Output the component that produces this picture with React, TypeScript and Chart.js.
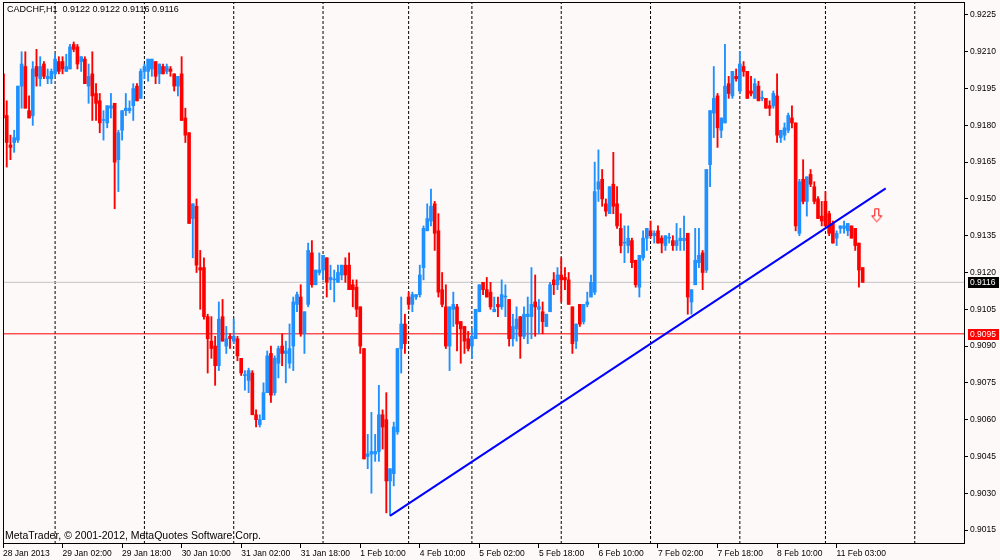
import React, { useEffect, useRef } from "react";
import { Chart, registerables } from "chart.js";

Chart.register(...registerables);

const FONT = '"Liberation Sans", Arial, sans-serif';
const BG = "#FDF9F8";
const BULL = "#1E90FF";
const BEAR = "#FF0000";

const titleText = "CADCHF,H1  0.9122 0.9122 0.9116 0.9116";
const copyrightText = "MetaTrader, \u00A9 2001-2012, MetaQuotes Software Corp.";

// H1 bars, index 0 = 28 Jan 2013 10:00 (one line per trading day)
const opens = [
  0.9201, 0.9184, 0.9172, 0.9173, 0.9174, 0.9196, 0.9204, 0.9186, 0.9184, 0.9204, 0.9199, 0.9205, 0.9199, 0.9199,
  0.9201, 0.9206, 0.9206, 0.9202, 0.9203, 0.9213, 0.9212, 0.9206, 0.9207, 0.9196, 0.9201, 0.9193, 0.919, 0.9182, 0.9181, 0.9187, 0.9189, 0.9166, 0.9178, 0.9186, 0.9186, 0.9188, 0.9196, 0.9191,
  0.9202, 0.9202, 0.9203, 0.9206, 0.9201, 0.9204, 0.9202, 0.9203, 0.9201, 0.9196, 0.9201, 0.9183, 0.9177, 0.9142, 0.9147, 0.9122, 0.9122, 0.9102, 0.9092, 0.909, 0.9082, 0.9102, 0.909, 0.9094,
  0.9092, 0.9093, 0.9085, 0.9078, 0.9076, 0.9079, 0.9062, 0.9058, 0.906, 0.9071, 0.9087, 0.9071, 0.9083, 0.909, 0.9087, 0.9083, 0.909, 0.9107, 0.911, 0.9095, 0.9107, 0.9128, 0.9115, 0.912,
  0.9121, 0.9126, 0.9117, 0.9117, 0.9116, 0.9119, 0.9123, 0.9123, 0.9115, 0.9114, 0.9106, 0.9089, 0.9045, 0.9046, 0.9046, 0.9047, 0.9062, 0.906, 0.9035, 0.9038, 0.9055, 0.9089, 0.9099,
  0.911, 0.9107, 0.911, 0.9111, 0.9122, 0.9137, 0.9141, 0.9148, 0.9137, 0.9113, 0.9106, 0.909, 0.9105, 0.9106, 0.91, 0.9098, 0.9093,
  0.909, 0.9093, 0.9104, 0.9116, 0.9113, 0.9112, 0.9104, 0.9107, 0.9106, 0.911, 0.9109, 0.9093, 0.9097, 0.9102, 0.9094, 0.9102, 0.9102, 0.9108, 0.9105, 0.9104, 0.9098, 0.9104, 0.9117, 0.9115,
  0.9119, 0.9118, 0.9117, 0.9106, 0.9092, 0.9107, 0.91, 0.9107, 0.911, 0.9112, 0.9154, 0.9158, 0.9148, 0.9144, 0.9156, 0.9148, 0.9138, 0.9132, 0.9131, 0.9133, 0.9125, 0.9114, 0.9126, 0.9134,
  0.9137, 0.9135, 0.9137, 0.9134, 0.9131, 0.9134, 0.9133, 0.9131, 0.9133, 0.9133, 0.9136, 0.9108, 0.9115, 0.9124, 0.9128, 0.9121, 0.9164, 0.9185, 0.9192, 0.9178, 0.9181, 0.9197, 0.9192, 0.92,
  0.9194, 0.9204, 0.9202, 0.9194, 0.9191, 0.9196, 0.9191, 0.9191, 0.9188, 0.9188, 0.9192, 0.9175, 0.9176, 0.9178, 0.9183, 0.9181, 0.9136, 0.9158, 0.9149, 0.916, 0.9155, 0.915, 0.9143,
  0.9149, 0.9144, 0.914, 0.9134, 0.9138, 0.9138, 0.9137, 0.9139, 0.9138, 0.9132, 0.9122,
];
const highs = [
  0.9205, 0.919, 0.9176, 0.9178, 0.9196, 0.921, 0.921, 0.9192, 0.9206, 0.9211, 0.9208, 0.9206, 0.9203, 0.9203,
  0.9209, 0.9208, 0.9208, 0.9209, 0.9213, 0.9214, 0.9213, 0.9208, 0.9208, 0.9205, 0.921, 0.9197, 0.9193, 0.9186, 0.9188, 0.9193, 0.9189, 0.9178, 0.9186, 0.9193, 0.919, 0.9197, 0.9197, 0.9203,
  0.9205, 0.9207, 0.9207, 0.9206, 0.9205, 0.9205, 0.9205, 0.9204, 0.9201, 0.92, 0.9208, 0.9187, 0.9177, 0.9148, 0.915, 0.9129, 0.9126, 0.9103, 0.9102, 0.9094, 0.9108, 0.9109, 0.9098, 0.9095,
  0.9101, 0.9094, 0.9085, 0.908, 0.9081, 0.908, 0.9064, 0.9062, 0.9075, 0.9088, 0.909, 0.9086, 0.909, 0.9095, 0.9092, 0.9099, 0.911, 0.9112, 0.9115, 0.9104, 0.9132, 0.9133, 0.9121, 0.9128,
  0.9127, 0.9126, 0.9123, 0.9121, 0.9123, 0.9123, 0.9126, 0.9128, 0.9117, 0.9117, 0.9106, 0.9089, 0.9054, 0.9063, 0.9054, 0.9074, 0.9064, 0.9071, 0.904, 0.9059, 0.9089, 0.911, 0.9103,
  0.9112, 0.9112, 0.9111, 0.9123, 0.9139, 0.9148, 0.9154, 0.9149, 0.9144, 0.912, 0.9115, 0.9106, 0.9112, 0.9107, 0.91, 0.9098, 0.9096,
  0.9097, 0.9105, 0.9115, 0.9116, 0.9118, 0.9116, 0.911, 0.911, 0.9117, 0.9115, 0.9109, 0.9103, 0.9106, 0.9102, 0.9106, 0.911, 0.9122, 0.9119, 0.9109, 0.9108, 0.9103, 0.9116, 0.912, 0.9122,
  0.9126, 0.9122, 0.912, 0.9106, 0.9099, 0.9107, 0.9107, 0.9112, 0.9119, 0.9165, 0.917, 0.9162, 0.915, 0.9155, 0.9169, 0.9155, 0.9144, 0.9139, 0.9139, 0.9134, 0.9125, 0.9127, 0.9137, 0.9138,
  0.9141, 0.9137, 0.9139, 0.9135, 0.9135, 0.9136, 0.9135, 0.914, 0.9138, 0.9143, 0.9136, 0.9113, 0.9138, 0.9138, 0.9129, 0.9162, 0.9186, 0.9204, 0.9193, 0.9183, 0.9213, 0.92, 0.9202, 0.9203,
  0.921, 0.9206, 0.9202, 0.92, 0.9199, 0.9198, 0.9194, 0.9191, 0.919, 0.9194, 0.9201, 0.9178, 0.9181, 0.9185, 0.9188, 0.9181, 0.9158, 0.9166, 0.9159, 0.9162, 0.9157, 0.9151, 0.9149,
  0.9153, 0.9145, 0.9141, 0.9137, 0.9139, 0.9141, 0.914, 0.9139, 0.9138, 0.9132, 0.9122,
];
const lows = [
  0.9182, 0.9163, 0.9166, 0.9169, 0.9173, 0.9187, 0.9187, 0.9183, 0.918, 0.9196, 0.9196, 0.9199, 0.9197, 0.9197,
  0.92, 0.9201, 0.9201, 0.9202, 0.9203, 0.921, 0.9203, 0.9202, 0.9197, 0.9189, 0.9182, 0.9182, 0.9177, 0.9174, 0.9179, 0.9183, 0.9146, 0.9153, 0.9174, 0.9184, 0.9185, 0.9182, 0.919, 0.9191,
  0.9199, 0.9198, 0.92, 0.9197, 0.9197, 0.9201, 0.9201, 0.92, 0.9194, 0.9192, 0.9182, 0.9173, 0.914, 0.9126, 0.912, 0.9105, 0.9101, 0.9079, 0.9085, 0.9074, 0.908, 0.9092, 0.9087, 0.9089,
  0.9091, 0.9084, 0.9078, 0.9072, 0.9071, 0.9062, 0.9057, 0.9057, 0.906, 0.9071, 0.9067, 0.907, 0.9077, 0.9082, 0.9075, 0.9081, 0.908, 0.9104, 0.9094, 0.9087, 0.9106, 0.9114, 0.9115, 0.9119,
  0.9117, 0.911, 0.9113, 0.9108, 0.9116, 0.9117, 0.9116, 0.9113, 0.9106, 0.9102, 0.9087, 0.9044, 0.904, 0.903, 0.9043, 0.9043, 0.9048, 0.9022, 0.9021, 0.9033, 0.9054, 0.9079, 0.9087,
  0.9105, 0.9104, 0.9109, 0.911, 0.9117, 0.9137, 0.9139, 0.9129, 0.911, 0.9106, 0.9089, 0.908, 0.9098, 0.9088, 0.9083, 0.9087, 0.9088,
  0.9085, 0.9093, 0.9104, 0.9111, 0.911, 0.9105, 0.9104, 0.9102, 0.9105, 0.9102, 0.909, 0.909, 0.9092, 0.9085, 0.9093, 0.9091, 0.9093, 0.9094, 0.9095, 0.9095, 0.9098, 0.9104, 0.9111, 0.9113,
  0.9108, 0.9113, 0.9107, 0.9087, 0.9089, 0.9098, 0.9099, 0.9106, 0.911, 0.9111, 0.9149, 0.9147, 0.9143, 0.9144, 0.9144, 0.9138, 0.9128, 0.9124, 0.9128, 0.9122, 0.9114, 0.911, 0.9125, 0.9129,
  0.9134, 0.9132, 0.9132, 0.9128, 0.9129, 0.9132, 0.9129, 0.9129, 0.9129, 0.9129, 0.9103, 0.9103, 0.9115, 0.9122, 0.9113, 0.912, 0.9155, 0.9175, 0.9171, 0.9175, 0.9181, 0.9191, 0.9191, 0.9198,
  0.9193, 0.92, 0.9191, 0.9192, 0.9191, 0.919, 0.919, 0.9187, 0.9184, 0.9187, 0.9173, 0.9173, 0.9174, 0.9177, 0.9179, 0.9137, 0.9135, 0.9148, 0.9143, 0.9155, 0.9148, 0.9142, 0.9139,
  0.9139, 0.9135, 0.9132, 0.9131, 0.9136, 0.9136, 0.9135, 0.9134, 0.9129, 0.9114, 0.9116,
];
const closes = [
  0.9183, 0.9173, 0.9171, 0.9175, 0.9196, 0.9205, 0.9187, 0.9183, 0.9203, 0.92, 0.9204, 0.92, 0.92, 0.9202,
  0.9207, 0.9202, 0.9203, 0.9204, 0.9212, 0.9211, 0.9205, 0.9208, 0.9197, 0.92, 0.9192, 0.9189, 0.9181, 0.9182, 0.9188, 0.9188, 0.9165, 0.9177, 0.9186, 0.9187, 0.9187, 0.9195, 0.919, 0.9202,
  0.9204, 0.9207, 0.9207, 0.92, 0.9205, 0.9201, 0.9204, 0.9202, 0.9196, 0.92, 0.9182, 0.9176, 0.914, 0.9148, 0.9123, 0.9121, 0.9102, 0.9093, 0.9089, 0.9082, 0.9101, 0.9092, 0.9093, 0.9093,
  0.9094, 0.9086, 0.9079, 0.9078, 0.908, 0.9062, 0.906, 0.906, 0.9071, 0.9086, 0.907, 0.9085, 0.9089, 0.9087, 0.9088, 0.9089, 0.9108, 0.9111, 0.9095, 0.9104, 0.9129, 0.9115, 0.9121, 0.9121,
  0.9127, 0.9116, 0.9118, 0.9117, 0.912, 0.9123, 0.9119, 0.9113, 0.9113, 0.9105, 0.909, 0.9044, 0.9046, 0.9047, 0.9047, 0.9062, 0.9057, 0.9035, 0.904, 0.9057, 0.9089, 0.9099, 0.9091,
  0.9107, 0.9111, 0.9111, 0.9119, 0.9138, 0.9142, 0.9147, 0.9136, 0.9112, 0.9107, 0.909, 0.9106, 0.9107, 0.9099, 0.9097, 0.9092, 0.9089,
  0.9094, 0.9105, 0.9115, 0.9113, 0.911, 0.9106, 0.9105, 0.9106, 0.9111, 0.911, 0.9093, 0.9098, 0.9101, 0.9094, 0.9103, 0.9103, 0.9107, 0.9106, 0.9106, 0.91, 0.9103, 0.9115, 0.9115, 0.9119,
  0.9117, 0.9117, 0.9107, 0.9091, 0.9099, 0.9099, 0.9107, 0.9108, 0.9116, 0.9153, 0.9157, 0.915, 0.9145, 0.9155, 0.9147, 0.9139, 0.9131, 0.9132, 0.9134, 0.9124, 0.9115, 0.9127, 0.9134, 0.9138,
  0.9135, 0.9136, 0.9132, 0.9132, 0.9135, 0.9134, 0.9131, 0.9133, 0.9134, 0.9134, 0.911, 0.9113, 0.9125, 0.9127, 0.912, 0.9162, 0.9186, 0.9191, 0.9179, 0.9183, 0.9196, 0.9193, 0.9202, 0.9199,
  0.9205, 0.9202, 0.9191, 0.9193, 0.9197, 0.919, 0.9191, 0.9187, 0.9187, 0.9193, 0.9176, 0.9178, 0.9179, 0.9184, 0.9181, 0.9139, 0.9157, 0.9149, 0.9159, 0.9156, 0.9149, 0.9142, 0.9141,
  0.9139, 0.9136, 0.9132, 0.9136, 0.9139, 0.9139, 0.914, 0.9134, 0.9131, 0.9121, 0.9116,
];

// time axis: label every 16 bars
const xTickIdx = [0, 16, 32, 48, 64, 80, 96, 112, 128, 144, 160, 176, 192, 208, 224];
const xTickLabels = [
  "28 Jan 2013", "29 Jan 02:00", "29 Jan 18:00", "30 Jan 10:00", "31 Jan 02:00",
  "31 Jan 18:00", "1 Feb 10:00", "4 Feb 10:00", "5 Feb 02:00", "5 Feb 18:00",
  "6 Feb 10:00", "7 Feb 02:00", "7 Feb 18:00", "8 Feb 10:00", "11 Feb 03:00",
];
// first bar of each day
const daySeparators = [14, 38, 62, 86, 109, 126, 150, 174, 198, 221, 245];

const yTicks = [
  0.9015, 0.903, 0.9045, 0.906, 0.9075, 0.909, 0.9105, 0.912,
  0.9135, 0.915, 0.9165, 0.918, 0.9195, 0.921, 0.9225,
];

const trendLine = [
  { x: 104, y: 0.90208 },
  { x: 237.2, y: 0.91543 },
];
const sellArrows = [{ x: 234.8, y: 0.91433 }];
const bidPrice = 0.9116;
const levelPrice = 0.9095;

const X_MIN = 0;
const X_MAX = 258.5;
const Y_MIN = 0.90093;
const Y_MAX = 0.92303;

function makeArrow(): HTMLCanvasElement {
  const c = document.createElement("canvas");
  c.width = 13;
  c.height = 16;
  const g = c.getContext("2d")!;
  g.beginPath();
  g.moveTo(4.5, 1.5);
  g.lineTo(8.5, 1.5);
  g.lineTo(8.5, 8.5);
  g.lineTo(11.5, 8.5);
  g.lineTo(6.5, 14.5);
  g.lineTo(1.5, 8.5);
  g.lineTo(4.5, 8.5);
  g.closePath();
  g.fillStyle = "#FFFFFF";
  g.fill();
  g.strokeStyle = "#FF0000";
  g.lineWidth = 1;
  g.stroke();
  return c;
}

// no automatic label padding, the plot box is placed by layout.padding only
const noPad = (s: any) => {
  s.paddingLeft = 0;
  s.paddingRight = 0;
  s.paddingTop = 0;
  s.paddingBottom = 0;
};

const mtPlugin = {
  id: "mtFrame",
  beforeDraw(chart: any) {
    const { ctx, width, height } = chart;
    ctx.save();
    ctx.fillStyle = BG;
    ctx.fillRect(0, 0, width, height);
    ctx.restore();
  },
  afterDraw(chart: any) {
    const { ctx, chartArea } = chart;
    const y = chart.scales.y;
    ctx.save();
    // frame
    ctx.strokeStyle = "#000";
    ctx.lineWidth = 1;
    const l = Math.round(chartArea.left) + 0.5;
    const t = Math.round(chartArea.top) + 0.5;
    const r = Math.round(chartArea.right) - 0.5;
    const b = Math.round(chartArea.bottom) - 0.5;
    ctx.strokeRect(l, t, r - l, b - t);

    ctx.textBaseline = "middle";
    ctx.textAlign = "left";
    ctx.fillStyle = "#000";
    ctx.font = `9px ${FONT}`;
    ctx.fillText(titleText, chartArea.left + 4, chartArea.top + 8);
    ctx.font = `10.5px ${FONT}`;
    ctx.fillText(copyrightText, chartArea.left + 2, chartArea.bottom - 8);

    // price tags on the right axis
    ctx.font = `8.5px ${FONT}`;
    const tags = [
      { v: bidPrice, bg: "#000000" },
      { v: levelPrice, bg: "#FF0000" },
    ];
    tags.forEach((tg) => {
      const py = y.getPixelForValue(tg.v);
      ctx.fillStyle = tg.bg;
      ctx.fillRect(chartArea.right + 3, Math.round(py) - 5, 31, 11);
      ctx.fillStyle = "#FFFFFF";
      ctx.fillText(tg.v.toFixed(4), chartArea.right + 5, Math.round(py) + 0.5);
    });
    ctx.restore();
  },
};

export default function App() {
  const canvasRef = useRef<HTMLCanvasElement>(null);
  const chartRef = useRef<Chart | null>(null);

  useEffect(() => {
    if (!canvasRef.current) return;
    const ctx = canvasRef.current.getContext("2d");
    if (!ctx) return;
    if (chartRef.current) chartRef.current.destroy();

    const idx = opens.map((_, i) => i);
    const colors = idx.map((i) => (closes[i] >= opens[i] ? BULL : BEAR));
    const wickData = idx.map((i) => ({ x: i, y: [lows[i], highs[i]] }));
    const bodyData = idx.map((i) => ({
      x: i,
      y: [Math.min(opens[i], closes[i]), Math.max(opens[i], closes[i])],
    }));
    const sepData: any[] = [];
    daySeparators.forEach((s) => {
      sepData.push({ x: s, y: Y_MIN }, { x: s, y: Y_MAX }, { x: s, y: null });
    });
    const bidLine = [{ x: X_MIN, y: bidPrice }, { x: X_MAX, y: bidPrice }];
    const levelLine = [{ x: X_MIN, y: levelPrice }, { x: X_MAX, y: levelPrice }];
    const font = { family: FONT, size: 8.5 };

    chartRef.current = new Chart(ctx, {
      type: "bar",
      data: {
        datasets: [
          {
            type: "line",
            data: sepData,
            borderColor: "#000",
            borderWidth: 1,
            borderDash: [3, 2],
            pointRadius: 0,
            spanGaps: false,
            order: 10,
          },
          {
            type: "line",
            data: bidLine,
            borderColor: "#C4C4C4",
            borderWidth: 1,
            pointRadius: 0,
            order: 9,
          },
          {
            type: "line",
            data: levelLine,
            borderColor: "#FF0000",
            borderWidth: 1,
            pointRadius: 0,
            order: 9,
          },
          {
            type: "bar",
            data: wickData,
            backgroundColor: colors,
            borderWidth: 0,
            barThickness: 1.2,
            grouped: false,
            order: 6,
          },
          {
            type: "bar",
            data: bodyData,
            backgroundColor: colors,
            borderWidth: 0,
            barThickness: 3,
            minBarLength: 1,
            grouped: false,
            order: 5,
          },
          {
            type: "line",
            data: trendLine,
            borderColor: "#0000FF",
            borderWidth: 2,
            pointRadius: 0,
            order: 2,
          },
          {
            type: "line",
            data: sellArrows,
            showLine: false,
            pointStyle: makeArrow(),
            pointRadius: 7,
            order: 1,
          },
        ] as any,
      },
      options: {
        animation: false,
        responsive: false,
        devicePixelRatio: 1,
        events: [],
        layout: { autoPadding: false, padding: { left: 3, top: 2, right: 0, bottom: 0 } },
        plugins: { legend: { display: false }, tooltip: { enabled: false } },
        scales: {
          x: {
            type: "linear",
            min: X_MIN,
            max: X_MAX,
            offset: false,
            border: { display: false },
            grid: {
              offset: false,
              drawOnChartArea: false,
              drawTicks: true,
              tickLength: 4,
              color: "#000",
            },
            afterBuildTicks: (s: any) => {
              s.ticks = xTickIdx.map((v) => ({ value: v }));
            },
            afterFit: (s: any) => {
              s.height = 16;
              noPad(s);
            },
            ticks: {
              autoSkip: false,
              maxRotation: 0,
              minRotation: 0,
              align: "start",
              padding: 1,
              color: "#000",
              font,
              callback: (v: any) => {
                const k = xTickIdx.indexOf(Number(v));
                return k >= 0 ? xTickLabels[k] : "";
              },
            },
          },
          y: {
            type: "linear",
            position: "right",
            min: Y_MIN,
            max: Y_MAX,
            border: { display: false },
            grid: { drawOnChartArea: false, tickLength: 3, color: "#000" },
            afterBuildTicks: (s: any) => {
              s.ticks = yTicks.map((v) => ({ value: v }));
            },
            afterFit: (s: any) => {
              s.width = 35;
              noPad(s);
            },
            ticks: {
              padding: 2,
              color: "#000",
              font,
              callback: (v: any) => Number(v).toFixed(4),
            },
          },
        },
      } as any,
      plugins: [mtPlugin],
    });

    return () => {
      if (chartRef.current) {
        chartRef.current.destroy();
        chartRef.current = null;
      }
    };
  }, []);

  return (
    <div style={{ position: "absolute", left: 0, top: 0, width: 1000, height: 560, background: BG }}>
      <canvas ref={canvasRef} width={1000} height={560} style={{ display: "block" }}></canvas>
    </div>
  );
}
